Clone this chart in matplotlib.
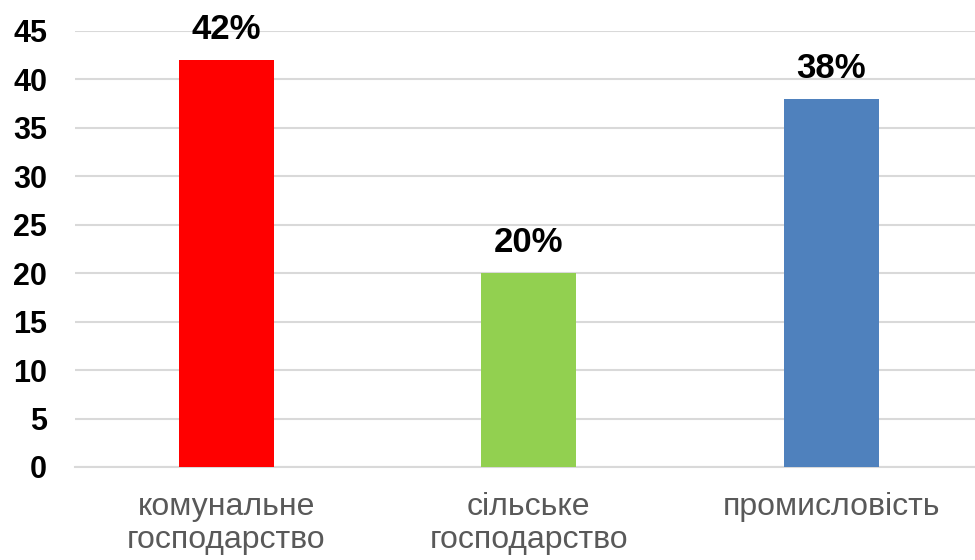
import matplotlib.pyplot as plt

categories = ["комунальне\nгосподарство", "сільське\nгосподарство", "промисловість"]
values = [42, 20, 38]
labels = ["42%", "20%", "38%"]
colors = ["#FF0000", "#92D050", "#4F81BD"]
yticks = [0, 5, 10, 15, 20, 25, 30, 35, 40, 45]

plt.rcParams['font.family'] = ['Liberation Sans', 'DejaVu Sans']

fig = plt.figure(figsize=(9.75, 5.6), dpi=100)
ax = fig.add_axes([75 / 975, 93 / 560, 900 / 975, 436 / 560])

x = list(range(len(categories)))
bars = ax.bar(x, values, width=0.314, color=colors, zorder=3)

for b, lab in zip(bars, labels):
    ax.annotate(lab, (b.get_x() + b.get_width() / 2, b.get_height()),
                xytext=(0, 10), textcoords="offset points",
                ha="center", va="bottom", fontsize=25, fontweight="bold")

ax.set_xlim(-0.5, 2.475)
ax.set_ylim(0, 45)
ax.set_yticks(yticks)
ax.set_yticklabels([str(t) for t in yticks], fontsize=22, fontweight="bold")
ax.set_xticks(x)
ax.set_xticklabels(categories, fontsize=23, color="#595959", linespacing=1.15)

ax.grid(axis="y", color="#d9d9d9", linewidth=1.5, zorder=0)
for s in ["top", "right", "left"]:
    ax.spines[s].set_visible(False)
ax.spines["bottom"].set_color("#d9d9d9")
ax.spines["bottom"].set_linewidth(1.5)
ax.tick_params(axis="both", length=0)
ax.tick_params(axis="y", pad=20)
ax.tick_params(axis="x", pad=18)

fig.savefig("out.png", dpi=100)
